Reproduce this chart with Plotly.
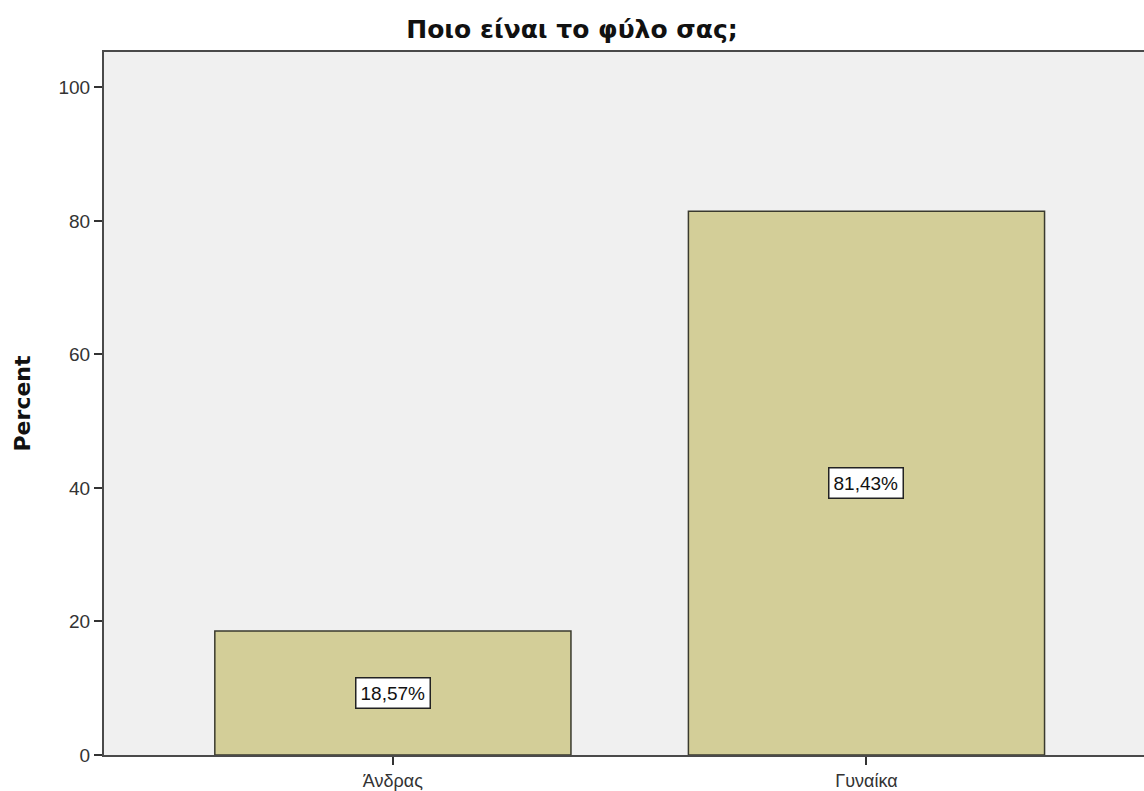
import plotly.graph_objects as go

categories = ["Άνδρας", "Γυναίκα"]
percent = [18.57, 81.43]
y_ticks = [0, 20, 40, 60, 80, 100]
title_text = "Ποιο είναι το φύλο σας;"
y_title = "Percent"

FONT = "Liberation Sans, Arial, sans-serif"
BOLD_FONT = "DejaVu Sans, Verdana, sans-serif"
labels = [f"{v:.2f}".replace(".", ",") + "%" for v in percent]

fig = go.Figure()
fig.add_trace(go.Bar(
    x=categories,
    y=percent,
    width=0.752,
    marker=dict(color="#D3CE98", line=dict(color="#3a3a2e", width=1.5)),
    hoverinfo="skip",
))

for c, v, t in zip(categories, percent, labels):
    fig.add_annotation(
        x=c, y=v / 2, xref="x", yref="y",
        text=t, showarrow=False,
        font=dict(family=FONT, size=19, color="#111111"),
        bgcolor="#FFFFFF", bordercolor="#222222", borderwidth=1.5, borderpad=4,
    )

fig.add_annotation(
    x=(22 - 104) / 1040, y=0.5, xref="paper", yref="paper", xanchor="center",
    text=f"<b>{y_title}</b>", showarrow=False, textangle=-90,
    font=dict(family=BOLD_FONT, size=22, color="#111111"),
)

fig.update_layout(
    width=1144, height=791,
    margin=dict(l=104, r=0, t=52, b=36),
    paper_bgcolor="#FFFFFF",
    plot_bgcolor="#F0F0F0",
    showlegend=False,
    title=dict(
        text=f"<b>{title_text}</b>", x=0.5, xref="container", xanchor="center",
        y=1 - 29 / 791, yanchor="middle", yref="container",
        font=dict(family=BOLD_FONT, size=25, color="#111111"),
    ),
    xaxis=dict(
        range=[-0.610, 1.586],
        showgrid=False, zeroline=False,
        showline=True, linecolor="#4a4a4a", linewidth=2, mirror=True,
        ticks="outside", ticklen=8, tickwidth=1.5, tickcolor="#333333",
        tickfont=dict(family=FONT, size=18, color="#333333"),
    ),
    yaxis=dict(
        range=[0, 105.3],
        tickvals=y_ticks,
        showgrid=False, zeroline=False,
        showline=True, linecolor="#4a4a4a", linewidth=2,
        ticks="outside", ticklen=8, tickwidth=1.5, tickcolor="#333333",
        tickfont=dict(family=FONT, size=19, color="#333333"),
    ),
)

fig.write_html(
    "out.html",
    config={"displayModeBar": False},
    post_script="document.body.style.margin='0';document.body.style.overflow='hidden';",
)
